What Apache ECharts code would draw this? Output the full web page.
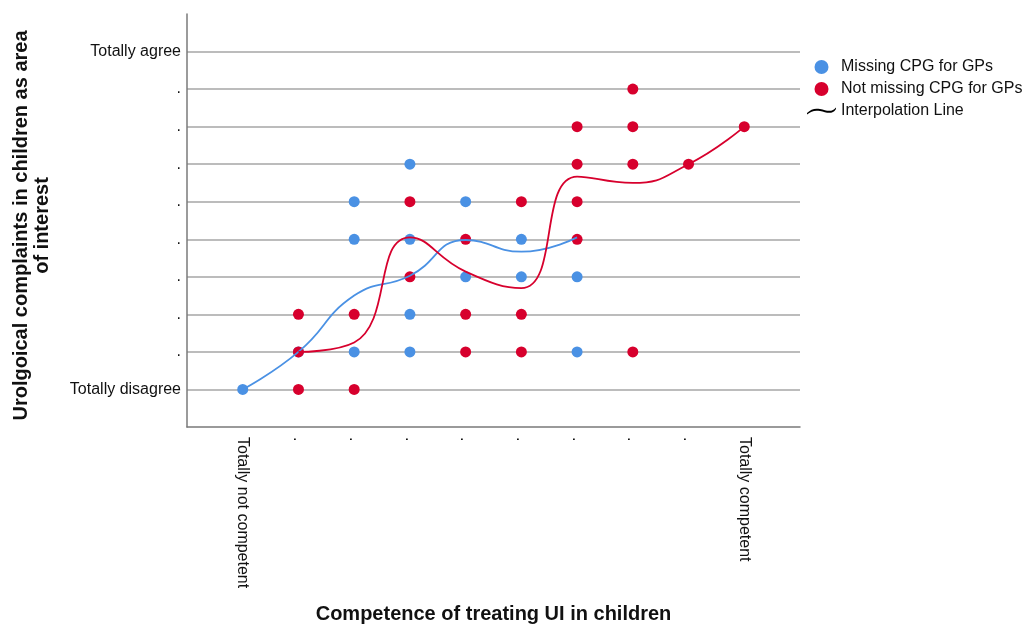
<!DOCTYPE html>
<html>
<head>
<meta charset="utf-8">
<script src="https://cdn.jsdelivr.net/npm/echarts@6/dist/echarts.min.js"></script>
<style>
  html, body { margin: 0; padding: 0; background: #fff; }
  #chart { width: 1031px; height: 629px; }
</style>
</head>
<body>
<div id="chart"></div>
<script>
// ---- Data ----
const xTickLabels = ['Totally not competent', '.', '.', '.', '.', '.', '.', '.', '.', 'Totally competent']; // values 1..10
const yTickLabels = ['Totally disagree', '.', '.', '.', '.', '.', '.', '.', '.', 'Totally agree'];        // values 1..10
const seriesNames = ['Missing CPG for GPs', 'Not missing CPG for GPs', 'Interpolation Line'];

// [competence, complaints-interest]
const missingPoints = [
  [1,1],[2,2],[3,2],[3,5],[3,6],[4,2],[4,3],[4,5],[4,7],
  [5,4],[5,6],[6,4],[6,5],[7,2],[7,4]
];
const notMissingPoints = [
  [2,1],[2,2],[2,3],[3,1],[3,3],[4,4],[4,6],[5,2],[5,3],[5,5],
  [6,2],[6,3],[6,6],[7,5],[7,6],[7,7],[7,8],[8,2],[8,7],[8,8],[8,9],
  [9,7],[10,8]
];
// interpolation lines (value at each competence level)
const missingLineX = [1, 2, 3, 4, 5, 6, 7];
const missingLineY = [1, 2, 3.5, 4.03, 4.98, 4.67, 5.05];
const notMissingLineX = [2, 3, 4, 5, 6, 7, 8, 9, 10];
const notMissingLineY = [2, 2.25, 5.05, 4.14, 3.7, 6.67, 6.5, 7, 8];

// ---- Styles ----
const BLUE = '#4a91e4';
const RED = '#d7002d';
const FONT = 'Arial, "Liberation Sans", sans-serif';

function pair(xs, ys) { return xs.map((x, i) => [x, ys[i]]); }
function tickLabel(list) {
  return function (v) {
    const i = Math.round(v) - 1;
    return (i >= 0 && i < list.length && Math.abs(v - Math.round(v)) < 1e-6) ? list[i] : '';
  };
}

const chart = echarts.init(document.getElementById('chart'), null, { renderer: 'canvas' });
chart.setOption({
  backgroundColor: '#ffffff',
  animation: false,
  textStyle: { fontFamily: FONT },
  grid: { left: 187, right: 231, top: 14, bottom: 195, containLabel: false },
  legend: {
    orient: 'vertical',
    left: 802,
    top: 54,
    itemWidth: 29,
    itemHeight: 14,
    itemGap: 6,
    textStyle: { fontFamily: FONT, fontSize: 16, color: '#111' },
    data: [
      { name: seriesNames[0], icon: 'circle' },
      { name: seriesNames[1], icon: 'circle' },
      { name: seriesNames[2], icon: 'path://M0,7 C4,3 8,2 13,3 C18,4 22,6 26,4 C27,3.5 28,2.5 29,1.5 L29,3 C28,4.5 27,5.5 26,6 C22,8 18,6 13,5 C8,4 4,5 0,8.5 Z' }
    ]
  },
  xAxis: {
    type: 'value',
    min: 0, max: 11, interval: 1,
    name: 'Competence of treating UI in children',
    nameLocation: 'middle',
    nameGap: 177,
    nameTextStyle: { fontFamily: FONT, fontSize: 20, fontWeight: 'bold', color: '#111' },
    axisLine: { show: true, onZero: false, lineStyle: { color: '#7a7a7a', width: 1.5 } },
    axisTick: { show: false },
    splitLine: { show: false },
    axisLabel: {
      rotate: -90,
      margin: 10,
      fontSize: 16,
      color: '#111',
      fontFamily: FONT,
      showMinLabel: true, showMaxLabel: true,
      formatter: tickLabel(xTickLabels)
    }
  },
  yAxis: {
    type: 'value',
    min: 0, max: 11, interval: 1,
    name: 'Urolgoical complaints in children as area\nof interest',
    nameLocation: 'middle',
    nameRotate: 90,
    nameGap: 134,
    nameTextStyle: { fontFamily: FONT, fontSize: 20, fontWeight: 'bold', color: '#111', lineHeight: 21, padding: [0, 10, 0, 0] },
    axisLine: { show: true, onZero: false, lineStyle: { color: '#7a7a7a', width: 1.5 } },
    axisTick: { show: false },
    splitLine: { show: true, showMinLine: false, showMaxLine: false, lineStyle: { color: '#bcbcbc', width: 2 } },
    axisLabel: {
      margin: 6,
      fontSize: 16,
      color: '#111',
      fontFamily: FONT,
      formatter: tickLabel(yTickLabels)
    }
  },
  series: [
    {
      name: seriesNames[0], type: 'scatter', symbol: 'circle', symbolSize: 11,
      itemStyle: { color: BLUE, opacity: 1 }, data: missingPoints, z: 2
    },
    {
      name: seriesNames[1], type: 'scatter', symbol: 'circle', symbolSize: 11,
      itemStyle: { color: RED, opacity: 1 }, data: notMissingPoints, z: 3
    },
    {
      name: 'missing-line', type: 'line', smooth: 0.5, showSymbol: false, symbol: 'none',
      lineStyle: { color: BLUE, width: 1.8 }, itemStyle: { color: BLUE },
      data: pair(missingLineX, missingLineY), z: 4
    },
    {
      name: 'not-missing-line', type: 'line', smooth: 0.5, showSymbol: false, symbol: 'none',
      lineStyle: { color: RED, width: 1.8 }, itemStyle: { color: RED },
      data: pair(notMissingLineX, notMissingLineY), z: 5
    },
    {
      name: seriesNames[2], type: 'line', data: [],
      itemStyle: { color: '#000' }, lineStyle: { color: '#000' }
    }
  ]
});
</script>
</body>
</html>
